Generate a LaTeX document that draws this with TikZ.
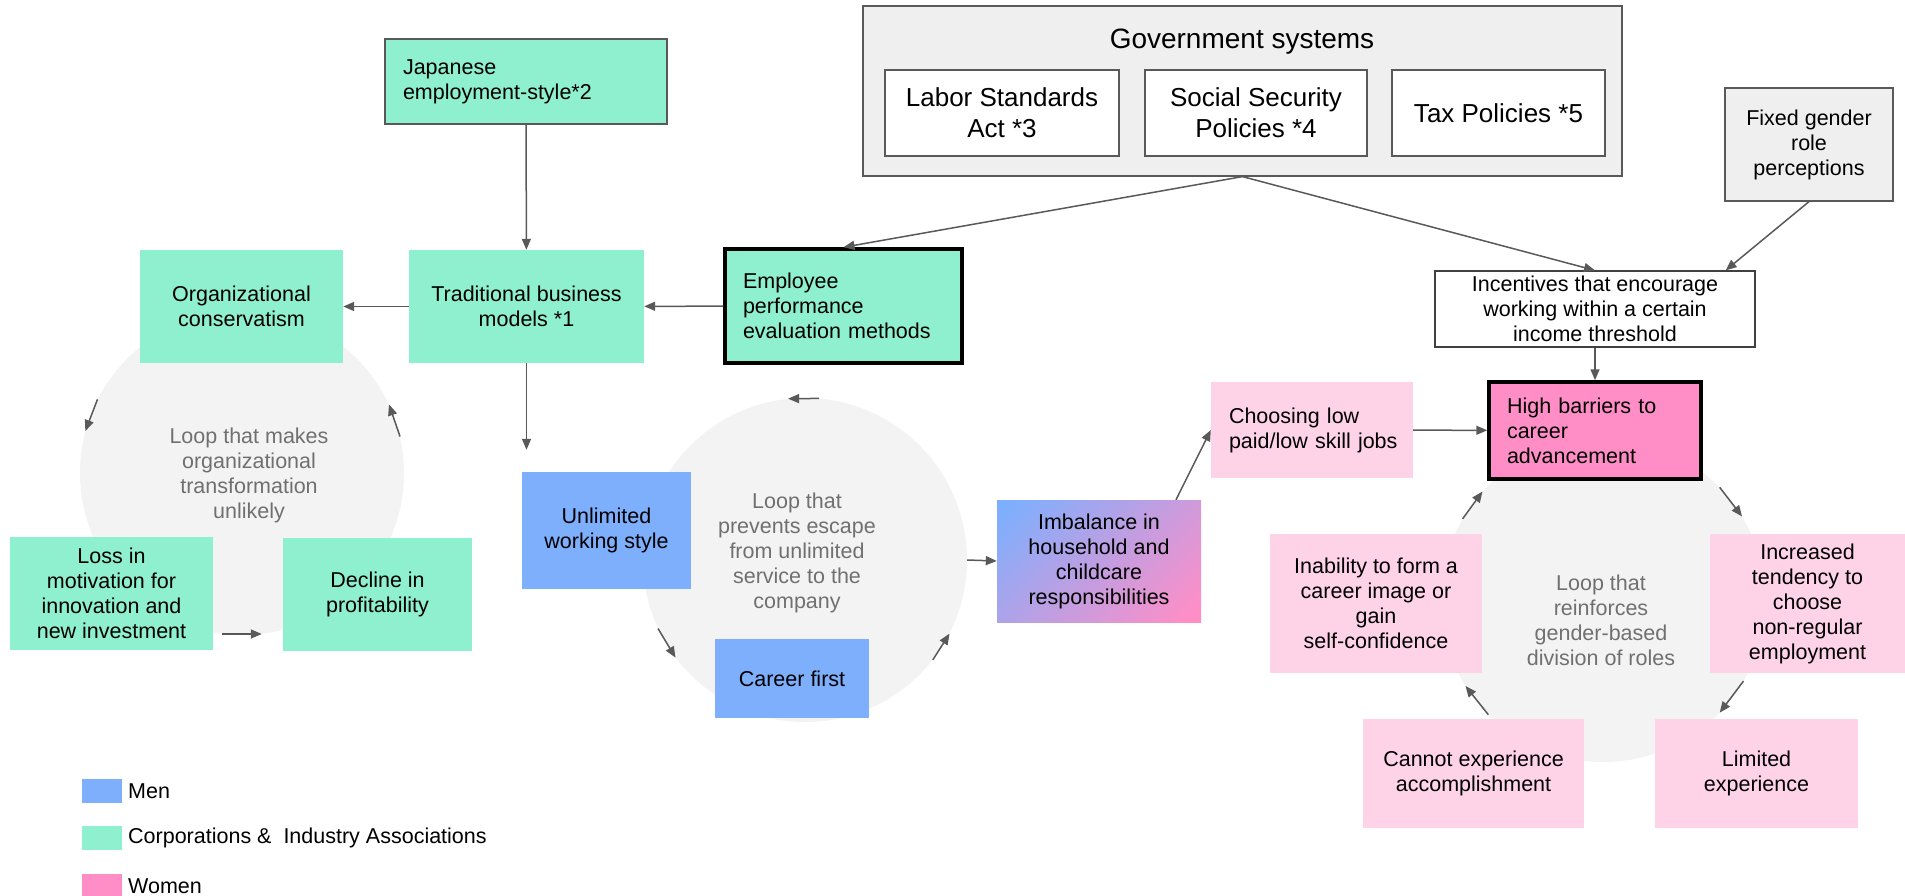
\documentclass[tikz,border=0pt]{standalone}
\usepackage{fontspec}
\setmainfont{Liberation Sans}
\usepackage{xcolor}
\usepackage{tikz}
\usetikzlibrary{arrows.meta}

\definecolor{corpgreen}{RGB}{143,240,208}
\definecolor{menblue}{RGB}{126,175,253}
\definecolor{womenpink}{RGB}{255,142,199}
\definecolor{lightpink}{RGB}{254,211,232}
\definecolor{loopgray}{RGB}{243,243,243}
\definecolor{govgray}{RGB}{239,239,239}
\definecolor{linegray}{RGB}{89,89,89}
\definecolor{darkline}{RGB}{64,64,64}
\definecolor{looptext}{RGB}{112,112,112}
\pgfdeclarehorizontalshading{imbalanceshade}{100bp}{color(0bp)=(menblue); color(18bp)=(menblue); color(82bp)=(womenpink); color(100bp)=(womenpink)}

\begin{document}
\begin{tikzpicture}[x=1pt, y=-1pt,
        txt/.style={font=\fontsize{21.5}{25}\selectfont, align=center, inner sep=0pt},
        box/.style 2 args={txt, inner xsep=18pt, minimum width=#1, minimum height=#2},
        lefttext/.style={align=left, text width=#1},
        corp/.style={fill=corpgreen},
        men/.style={fill=menblue},
        women/.style={fill=womenpink},
        womenlight/.style={fill=lightpink},
        sub/.style={fill=white, font=\fontsize{26}{31}\selectfont},
        framed/.style={draw=linegray, line width=1.2pt},
        strong/.style={draw=black, line width=3.5pt},
        loopzone/.style={circle, fill=loopgray, minimum size=324pt, inner sep=0pt},
        looplabel/.style={txt, text=looptext},
        key/.style={minimum width=40pt, minimum height=24pt, inner sep=0pt},
        link/.style={draw=linegray, line width=1.5pt, -{Triangle[length=11pt, width=9pt]}}]
                \useasboundingbox (0,0) rectangle (1905,896);

                \node[loopzone] (loopA) at (242,473) {};
                \node[loopzone] (loopB) at (805,560) {};
                \node[loopzone] (loopC) at (1603,600) {};
                \node[looplabel] (loopAtext) at (249,475) {Loop that makes\\organizational\\transformation\\unlikely};
                \node[looplabel] (loopBtext) at (797,553) {Loop that\\prevents escape\\from unlimited\\service to the\\company};
                \node[looplabel] (loopCtext) at (1601,620) {Loop that\\reinforces\\gender-based\\division of roles};

                \node[box={282pt}{85pt}, corp, framed, lefttext=246pt] (japanese) at (526,81.5) {Japanese\\employment-style*2};
                \node[box={203pt}{113pt}, corp] (orgcons) at (241.5,306.5) {Organizational\\conservatism};
                \node[box={235pt}{113pt}, corp] (tradmodel) at (526.5,306.5) {Traditional business\\models *1};
                \node[box={237pt}{114pt}, corp, strong, lefttext=201pt] (evaluation) at (843.5,306) {Employee\\performance\\evaluation methods};

                \node[box={759pt}{170pt}, fill=govgray, framed] (govsys) at (1242.5,91) {};
                \node[txt, font=\fontsize{28}{33}\selectfont] (govtitle) at (1242,42) {Government systems};
                \node[box={234pt}{86pt}, sub, framed] (laborlaw) at (1002,113) {Labor Standards\\Act *3};
                \node[box={222pt}{86pt}, sub, framed] (socialsec) at (1256,113) {Social Security\\Policies *4};
                \node[box={213pt}{86pt}, sub, framed] (taxpol) at (1498.5,113) {Tax Policies *5};
                \node[box={168pt}{113pt}, fill=govgray, framed] (genderrole) at (1809,144.5) {Fixed gender\\role\\perceptions};
                \node[box={320pt}{76pt}, fill=white, draw=darkline, line width=1.2pt] (incentive) at (1595,309) {Incentives that encourage\\working within a certain\\income threshold};

                \node[box={202pt}{96pt}, womenlight, lefttext=166pt] (lowpaid) at (1312,430) {Choosing low\\paid/low~skill~jobs};
                \node[box={212pt}{97pt}, women, strong, lefttext=176pt] (barriers) at (1595,430.5) {High barriers to\\career\\advancement};

                \node[box={169pt}{117pt}, men] (unlimited) at (606.5,530.5) {Unlimited\\working style};
                \node[box={154pt}{79pt}, men] (careerfirst) at (792,678.5) {Career first};
                \node[box={204pt}{122pt}, shade, shading=imbalanceshade, shading angle=-45] (imbalance) at (1099,561) {Imbalance in\\household and\\childcare\\responsibilities};
                \node[box={203pt}{113pt}, corp] (motivation) at (111.5,593.5) {Loss in\\motivation for\\innovation and\\new investment};
                \node[box={189pt}{113pt}, corp] (profit) at (377.5,594.5) {Decline in\\profitability};

                \node[box={212pt}{139pt}, womenlight] (selfconf) at (1376,603.5) {Inability to form a\\career image or\\gain\\self-confidence};
                \node[box={195pt}{139pt}, womenlight] (nonregular) at (1807.5,603.5) {Increased\\tendency to\\choose\\non-regular\\employment};
                \node[box={221pt}{109pt}, womenlight] (accomplish) at (1473.5,773.5) {Cannot experience\\accomplishment};
                \node[box={203pt}{109pt}, womenlight] (experience) at (1756.5,773.5) {Limited\\experience};

                \draw[link] (japanese) -- (tradmodel);
                \draw[link] (tradmodel) -- (orgcons);
                \draw[link] (evaluation) -- (tradmodel);
                \draw[link] (govsys.south) -- (evaluation.north);
                \draw[link] (govsys.south) -- (incentive.north);
                \draw[link] (genderrole.south) -- ([xshift=-30pt]incentive.north east);
                \draw[link] (incentive) -- (barriers);
                \draw[link] (lowpaid) -- (barriers);
                \draw[link] ([xshift=77pt]imbalance.north) -- (lowpaid.west);
                \draw[link] (tradmodel.south) -- ([yshift=22pt]unlimited.north -| tradmodel.south);
                \draw[link] (loopB.east) -- (imbalance.west);

                \foreach \zone/\from/\to in {loopA/153/165, loopA/263/277, loopA/13/25,
                        loopB/85/96, loopB/205/217, loopB/322/333,
                        loopC/150/138, loopC/44/31, loopC/330/316, loopC/225/212}
                    \draw[link] (\zone.\from) -- (\zone.\to);

                \node[key, fill=menblue] (keymen) at (102,791) {};
                \node[txt, anchor=west] (labelmen) at (128,791) {Men};
                \node[key, fill=corpgreen] (keycorp) at (102,838) {};
                \node[txt, anchor=west] (labelcorp) at (128,838) {Corporations \&~ Industry Associations};
                \node[key, fill=womenpink] (keywomen) at (102,886) {};
                \node[txt, anchor=west] (labelwomen) at (128,886) {Women};
            \end{tikzpicture}
\end{document}
